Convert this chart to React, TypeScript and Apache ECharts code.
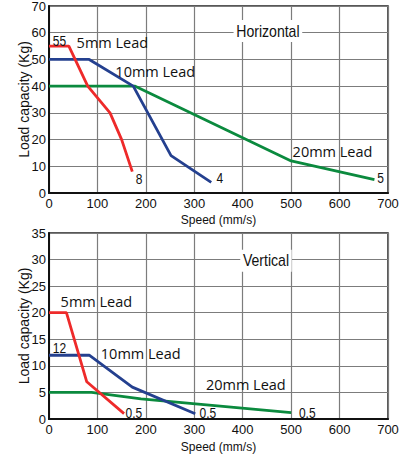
import React, { useEffect, useRef } from "react";
import * as echarts from "echarts";

// Horizontal (top chart) data: [speed mm/s, load kg]
const hLead5: number[][] = [[0, 55], [41, 55], [80, 40], [126, 30], [150, 20], [172, 8]];
const hLead10: number[][] = [[0, 50], [83, 50], [174, 40], [252, 14], [335, 4]];
const hLead20: number[][] = [[0, 40], [178, 40], [500, 12], [672, 5]];

// Vertical (bottom chart) data
const vLead5: number[][] = [[0, 20], [36, 20], [78, 7], [155, 1]];
const vLead10: number[][] = [[0, 12], [83, 12], [172, 6], [302, 1]];
const vLead20: number[][] = [[0, 5], [88, 5], [190, 3.8], [500, 1.2]];

const xTicks = [0, 100, 200, 300, 400, 500, 600, 700];
const hYMax = 70;
const vYMax = 35;

// annotations: [x, y, text] in data coordinates
const hNotes: [number, number, string][] = [
  [8, 57, "55"],
  [57, 56.5, "5mm Lead"],
  [137, 45.6, "10mm Lead"],
  [503, 15.7, "20mm Lead"],
  [179, 5.1, "8"],
  [346, 5.5, "4"],
  [678, 5.5, "5"],
];
const vNotes: [number, number, string][] = [
  [24, 22.2, "5mm Lead"],
  [8, 13.4, "12"],
  [107, 12.4, "10mm Lead"],
  [324, 6.4, "20mm Lead"],
  [158, 1.2, "0.5"],
  [311, 1.1, "0.5"],
  [516, 1.1, "0.5"],
];
const titles: [number, number, number, string][] = [
  [0, 452, 60.6, "Horizontal"],
  [1, 448, 29.8, "Vertical"],
];

const RED = "#ee2a2a";
const BLUE = "#24408f";
const GREEN = "#0b8a3e";
const NARROW = "'Liberation Sans', Arial, sans-serif";
const SANS = "'Open Sans', 'Noto Sans', sans-serif";

export default function App() {
  const ref = useRef<HTMLDivElement>(null);
  useEffect(() => {
    document.body.style.margin = "0";
    const chart = echarts.init(ref.current!, null, { renderer: "svg" });
    const xAxis = (gi: number, nameGap: number) => ({
      type: "value" as const,
      gridIndex: gi,
      min: xTicks[0],
      max: xTicks[xTicks.length - 1],
      interval: 100,
      name: "Speed (mm/s)",
      nameLocation: "middle" as const,
      nameGap,
      nameMoveOverlap: false,
      nameTextStyle: { fontFamily: NARROW, fontSize: 12, color: "#111" },
      axisLine: { show: true, lineStyle: { color: "#111", width: 2 } },
      axisTick: { show: false },
      axisLabel: { fontFamily: NARROW, fontSize: 13, color: "#111", margin: 4 },
      splitLine: { show: true, lineStyle: { color: "#7c7c7c", width: 1.2 } },
    });
    const yAxis = (gi: number, max: number, interval: number) => ({
      type: "value" as const,
      gridIndex: gi,
      min: 0,
      max,
      interval,
      name: "Load capacity (Kg)",
      nameLocation: "middle" as const,
      nameGap: 18,
      nameMoveOverlap: false,
      nameTextStyle: { fontFamily: NARROW, fontSize: 14, color: "#111" },
      axisLine: { show: true, lineStyle: { color: "#111", width: 2 } },
      axisTick: { show: false },
      axisLabel: { fontFamily: NARROW, fontSize: 13, color: "#111", margin: 3 },
      splitLine: { show: true, lineStyle: { color: "#7c7c7c", width: 1.2 } },
    });
    const line = (data: number[][], color: string, gi: number) => ({
      type: "line" as const,
      xAxisIndex: gi,
      yAxisIndex: gi,
      data,
      symbol: "none",
      lineStyle: { color, width: 2.8 },
      z: color === GREEN ? 2 : color === BLUE ? 3 : 4,
    });
    chart.setOption({
      animation: false,
      grid: [
        { left: 49, top: 6, width: 339, height: 187, show: true, borderColor: "#222", borderWidth: 1.5, outerBoundsMode: "none" },
        { left: 49, top: 233, width: 339, height: 186, show: true, borderColor: "#222", borderWidth: 1.5, outerBoundsMode: "none" },
      ],
      xAxis: [xAxis(0, 21), xAxis(1, 22)],
      yAxis: [yAxis(0, hYMax, 10), yAxis(1, vYMax, 5)],
      series: [
        line(hLead20, GREEN, 0),
        line(hLead10, BLUE, 0),
        line(hLead5, RED, 0),
        line(vLead20, GREEN, 1),
        line(vLead10, BLUE, 1),
        line(vLead5, RED, 1),
      ],
    });
    const graphic: any[] = [];
    const addNotes = (gi: number, notes: [number, number, string][]) => {
      notes.forEach(([x, y, t]) => {
        const p = chart.convertToPixel({ gridIndex: gi }, [x, y]) as number[];
        const num = /^[0-9.]+$/.test(t);
        graphic.push({
          type: "text",
          x: p[0],
          y: p[1],
          z: 10,
          scaleX: num ? 0.8 : 1,
          style: {
            text: t,
            fontFamily: num ? NARROW : SANS,
            fontSize: num ? 15 : 14.5,
            fill: "#111",
            textAlign: "left",
            textVerticalAlign: "middle",
          },
        });
      });
    };
    addNotes(0, hNotes);
    addNotes(1, vNotes);
    titles.forEach(([gi, x, y, t]) => {
      const p = chart.convertToPixel({ gridIndex: gi }, [x, y]) as number[];
      graphic.push({
        type: "text",
        x: p[0],
        y: p[1],
        z: 10,
        scaleX: 0.88,
        style: {
          text: t,
          fontFamily: NARROW,
          fontSize: 16,
          fill: "#111",
          textAlign: "center",
          textVerticalAlign: "middle",
          backgroundColor: "#fff",
          padding: [3, 3],
        },
      });
    });
    chart.setOption({ graphic });
    return () => chart.dispose();
  }, []);
  return <div ref={ref} style={{ width: 400, height: 458 }} />;
}
